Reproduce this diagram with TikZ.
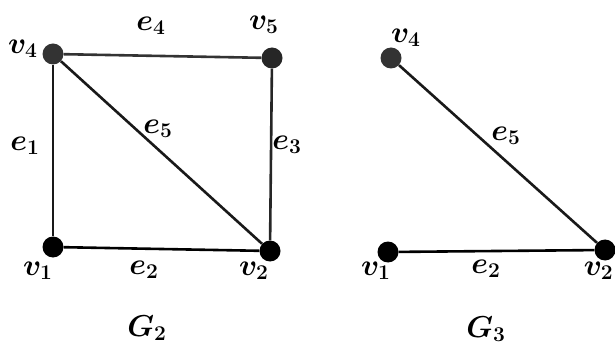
\documentclass[tikz,border=0pt]{standalone}
\begin{document}
\begin{tikzpicture}[x=1pt,y=-1pt,
  vtx/.style={circle,fill=#1,inner sep=0pt,minimum size=21pt},
  vtx/.default=black,
  edge/.style={line width=2.6pt,draw=#1},
  edge/.default=black,
  lbl/.style={inner sep=0pt,font=\LARGE\boldmath,scale=1.75}]
\useasboundingbox (0,0) rectangle (615,347);
% G2
\node[vtx={black!80}] (a4) at (53,54) {};
\node[vtx={black!85}] (a5) at (272,58) {};
\node[vtx] (a1) at (53,247) {};
\node[vtx] (a2) at (270,251) {};
\draw[edge={black!80}] (a4) -- (a5);
\draw[edge={black!85}] (a5) -- (a2);
\draw[edge={black!90}] (a4) -- (a1);
\draw[edge] (a1) -- (a2);
\draw[edge={black!90}] (a4) -- (a2);
\node[lbl] (la4) at (23,49) {$v_4$};
\node[lbl] (la5) at (264,25) {$v_5$};
\node[lbl] (le4) at (151,26) {$e_4$};
\node[lbl] (le1) at (25,146) {$e_1$};
\node[lbl] (le5) at (158,129) {$e_5$};
\node[lbl] (le3) at (287,145) {$e_3$};
\node[lbl] (la1) at (38,271) {$v_1$};
\node[lbl] (le2) at (144,270) {$e_2$};
\node[lbl] (la2) at (254,271) {$v_2$};
\node[lbl] (g2) at (147,328) {$G_2$};
% G3
\node[vtx={black!80}] (b4) at (391,58) {};
\node[vtx] (b1) at (388,252) {};
\node[vtx] (b2) at (605,250) {};
\draw[edge={black!90}] (b4) -- (b2);
\draw[edge] (b1) -- (b2);
\node[lbl] (lb4) at (406,38) {$v_4$};
\node[lbl] (lf5) at (506,136) {$e_5$};
\node[lbl] (lb1) at (376,271) {$v_1$};
\node[lbl] (lf2) at (486,269) {$e_2$};
\node[lbl,anchor=east] (lb2) at (614,271) {$v_2$};
\node[lbl] (g3) at (486,329) {$G_3$};
\end{tikzpicture}
\end{document}
